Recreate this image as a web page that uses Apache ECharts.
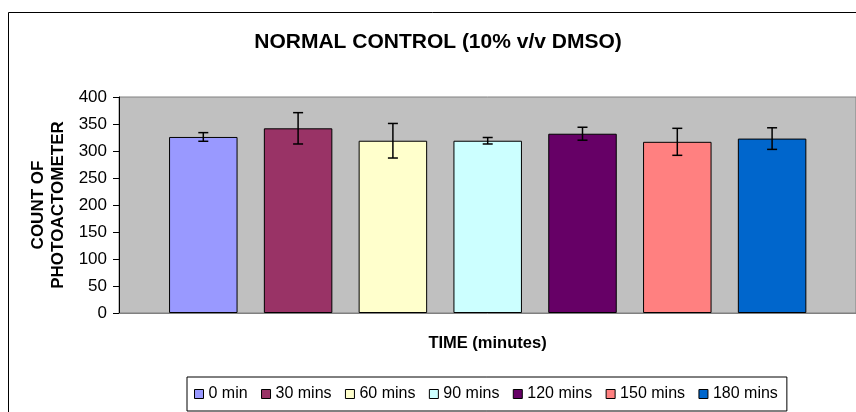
<!DOCTYPE html>
<html>
<head>
<meta charset="utf-8">
<script src="https://cdn.jsdelivr.net/npm/echarts@6/dist/echarts.min.js"></script>
<style>
html,body{margin:0;padding:0;background:#fff;}
#chart{width:856px;height:412px;}
</style>
</head>
<body>
<div id="chart"></div>
<script>
const categories = ['0 min', '30 mins', '60 mins', '90 mins', '120 mins', '150 mins', '180 mins'];
const values = [326, 342, 319, 319, 332, 317, 323];
const errors = [8, 29, 32, 6, 12, 25, 20];
const colors = ['#9999FF', '#993366', '#FFFFCC', '#CCFFFF', '#660066', '#FF8080', '#0066CC'];
const yTicks = { min: 0, max: 400, interval: 50 };

const FONT = '"Liberation Sans", Arial, sans-serif';

const barSeries = categories.map((name, i) => ({
  name: name,
  type: 'bar',
  xAxisIndex: 1,
  yAxisIndex: 1,
  barWidth: 68.5,
  barGap: '-100%',
  itemStyle: { color: colors[i], borderColor: '#000', borderWidth: 1 },
  data: categories.map((c, j) => (j === i ? values[i] : null)),
  z: 2
}));

const errData = values.map((v, i) => [i, v - errors[i], v + errors[i]]);

const errSeries = {
  type: 'custom',
  xAxisIndex: 1,
  yAxisIndex: 1,
  z: 5,
  data: errData,
  renderItem: function (params, api) {
    const lo = api.coord([api.value(0), api.value(1)]);
    const hi = api.coord([api.value(0), api.value(2)]);
    const cap = 5;
    const st = { stroke: '#000', lineWidth: 1.5 };
    return {
      type: 'group',
      children: [
        { type: 'line', shape: { x1: hi[0], y1: hi[1], x2: lo[0], y2: lo[1] }, style: st },
        { type: 'line', shape: { x1: hi[0] - cap, y1: hi[1], x2: hi[0] + cap, y2: hi[1] }, style: st },
        { type: 'line', shape: { x1: lo[0] - cap, y1: lo[1], x2: lo[0] + cap, y2: lo[1] }, style: st }
      ]
    };
  }
};

const chart = echarts.init(document.getElementById('chart'), null, { renderer: 'canvas' });
chart.setOption({
  animation: false,
  backgroundColor: '#fff',
  textStyle: { fontFamily: FONT },
  graphic: [
    { type: 'rect', left: 6, top: 10, shape: { x: 0.5, y: 0.5, width: 900, height: 500 },
      style: { fill: 'none', stroke: '#000', lineWidth: 1 }, silent: true, z: 0 },
    { type: 'text', x: 438, y: 42, style: { text: 'NORMAL CONTROL (10% v/v DMSO)', font: 'bold 21px ' + FONT,
      fill: '#000', textAlign: 'center', textVerticalAlign: 'middle' }, z: 10 },
    { type: 'text', x: 48, y: 205, rotation: Math.PI / 2, style: { text: 'COUNT OF\nPHOTOACTOMETER', font: 'bold 17px ' + FONT,
      fill: '#000', textAlign: 'center', textVerticalAlign: 'middle', lineHeight: 20 }, z: 10 }
  ],
  grid: [
    { left: 119, right: -2, top: 97, bottom: 99, show: true, backgroundColor: '#C0C0C0', borderColor: '#808080', borderWidth: 1 },
    { left: 155.9, right: 36.5, top: 97, bottom: 99 }
  ],
  xAxis: [
    { type: 'category', gridIndex: 0, data: [''],
      axisLine: { lineStyle: { color: '#808080', width: 1 } }, axisTick: { show: false }, axisLabel: { show: false },
      name: 'TIME (minutes)', nameLocation: 'middle', nameGap: 22,
      nameTextStyle: { fontFamily: FONT, fontWeight: 'bold', fontSize: 16.5, color: '#000' } },
    { type: 'category', gridIndex: 1, data: categories, show: false }
  ],
  yAxis: [
    { type: 'value', gridIndex: 0, min: yTicks.min, max: yTicks.max, interval: yTicks.interval,
      axisLine: { show: true, lineStyle: { color: '#000', width: 1 } },
      axisTick: { show: true, length: 6, lineStyle: { color: '#000' } },
      axisLabel: { fontFamily: FONT, fontSize: 17, color: '#000', margin: 12 },
      splitLine: { show: false } },
    { type: 'value', gridIndex: 1, min: yTicks.min, max: yTicks.max, show: false, splitLine: { show: false } }
  ],
  legend: {
    data: categories,
    left: 187, top: 377,
    orient: 'horizontal',
    borderColor: '#000', borderWidth: 1, borderRadius: 0,
    padding: [8, 9, 8, 7],
    itemGap: 13.4,
    itemWidth: 9, itemHeight: 9,
    icon: 'rect',
    itemStyle: { borderColor: '#000', borderWidth: 1 },
    textStyle: { fontFamily: FONT, fontSize: 16, color: '#000', lineHeight: 18 },
    selectedMode: false
  },
  series: barSeries.concat([errSeries])
});
</script>
</body>
</html>
